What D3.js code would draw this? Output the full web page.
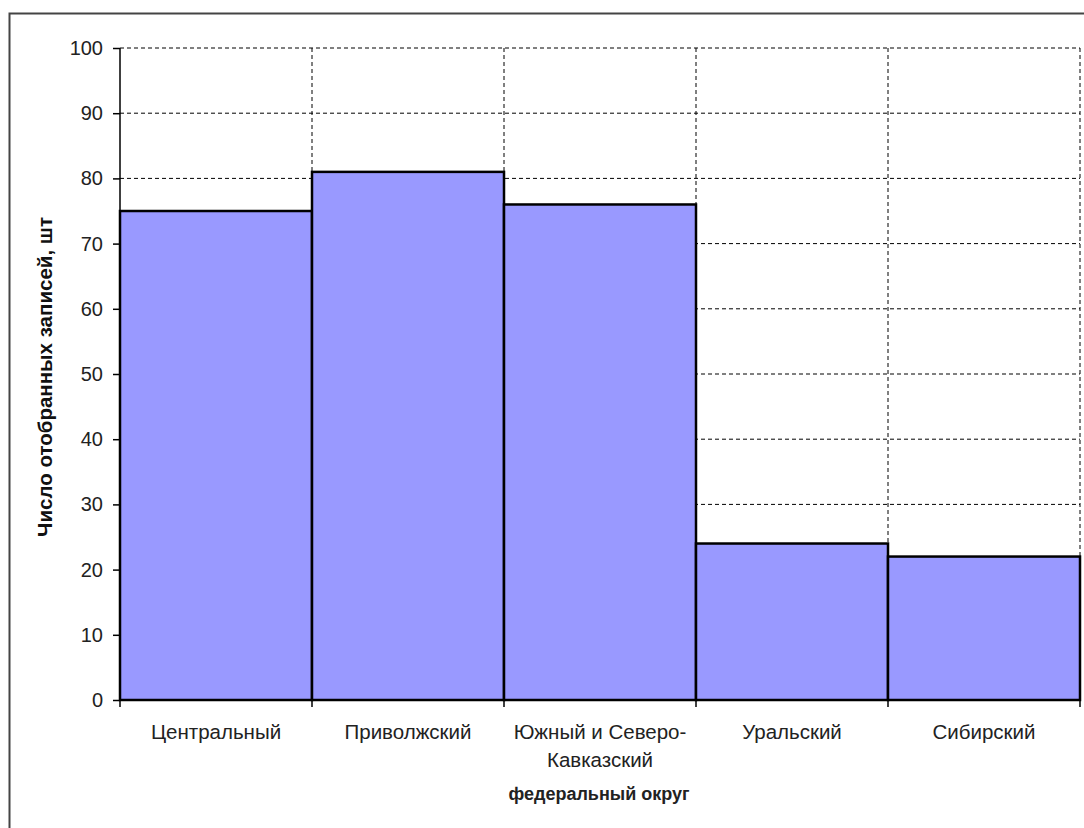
<!DOCTYPE html>
<html><head><meta charset="utf-8">
<script src="https://cdn.jsdelivr.net/npm/d3@7"></script>
<style>body{margin:0;background:#fff;} svg{display:block;}</style>
</head><body>
<svg id="c" width="1084" height="828"></svg>
<script>
const categories = ["Центральный", "Приволжский", "Южный и Северо-Кавказский", "Уральский", "Сибирский"];
const categoryLines = [["Центральный"], ["Приволжский"], ["Южный и Северо-", "Кавказский"], ["Уральский"], ["Сибирский"]];
const values = [75, 81, 76, 24, 22];
const yTicks = [0, 10, 20, 30, 40, 50, 60, 70, 80, 90, 100];
const yTitle = "Число отобранных записей, шт";
const xTitle = "федеральный округ";

const svg = d3.select("#c");
const L = 120, R = 1080, T = 48, B = 700;
const font = "'Liberation Sans', Arial, sans-serif";

svg.append("rect").attr("x", 9.5).attr("y", 13.5).attr("width", 1100).attr("height", 900)
  .attr("fill", "none").attr("stroke", "#444").attr("stroke-width", 2);

const x = d3.scaleBand().domain(categories).range([L, R]).padding(0);
const y = d3.scaleLinear().domain([0, 100]).range([B, T]);

// horizontal gridlines
svg.append("g").selectAll("line").data(yTicks.filter(d => d > 0)).join("line")
  .attr("x1", L).attr("x2", R).attr("y1", d => y(d)).attr("y2", d => y(d))
  .attr("stroke", "#000").attr("stroke-width", 1).attr("stroke-dasharray", "4,3");
// vertical gridlines at band boundaries
const bounds = categories.map(c => x(c) + x.bandwidth());
svg.append("g").selectAll("line").data(bounds).join("line")
  .attr("x1", d => d).attr("x2", d => d).attr("y1", T).attr("y2", B)
  .attr("stroke", "#000").attr("stroke-width", 1).attr("stroke-dasharray", "4,3");

// bars
svg.append("g").selectAll("rect").data(values).join("rect")
  .attr("x", (d, i) => x(categories[i]))
  .attr("width", x.bandwidth())
  .attr("y", d => y(d))
  .attr("height", d => y(0) - y(d))
  .attr("fill", "#9999FF").attr("stroke", "#000").attr("stroke-width", 2.5);

// y axis
const yAxis = d3.axisLeft(y).tickValues(yTicks).tickSize(7).tickPadding(10);
const gy = svg.append("g").attr("transform", `translate(${L},0)`).call(yAxis);
gy.select(".domain").attr("stroke", "#000").attr("stroke-width", 1.5).attr("d", `M0,${T}V${B}`);
gy.selectAll(".tick line").attr("stroke", "#000").attr("stroke-width", 1.5);
gy.selectAll(".tick text").attr("font-family", font).attr("font-size", 20).attr("fill", "#222");

// x axis
const gx = svg.append("g").attr("transform", `translate(0,${B})`);
gx.append("line").attr("x1", L).attr("x2", R).attr("stroke", "#000").attr("stroke-width", 2);
gx.selectAll("line.tk").data([L].concat(bounds)).join("line").attr("class", "tk")
  .attr("x1", d => d).attr("x2", d => d).attr("y1", 0).attr("y2", 7)
  .attr("stroke", "#000").attr("stroke-width", 1.5);
const lbl = gx.selectAll("text.cat").data(categories).join("text").attr("class", "cat")
  .attr("x", d => x(d) + x.bandwidth() / 2).attr("y", 39)
  .attr("text-anchor", "middle").attr("font-family", font).attr("font-size", 20.5).attr("fill", "#222");
lbl.each(function(d, i) {
  const t = d3.select(this);
  categoryLines[i].forEach((line, j) => {
    t.append("tspan").attr("x", x(d) + x.bandwidth() / 2).attr("dy", j === 0 ? 0 : 28).text(line);
  });
});

svg.append("text").attr("x", 599).attr("y", 800).attr("text-anchor", "middle")
  .attr("font-family", font).attr("font-weight", "bold").attr("font-size", 18).attr("fill", "#222").text(xTitle);
svg.append("text").attr("transform", `translate(52,377) rotate(-90)`).attr("text-anchor", "middle")
  .attr("font-family", font).attr("font-weight", "bold").attr("font-size", 20.5).attr("fill", "#111").text(yTitle);
</script>
</body></html>
